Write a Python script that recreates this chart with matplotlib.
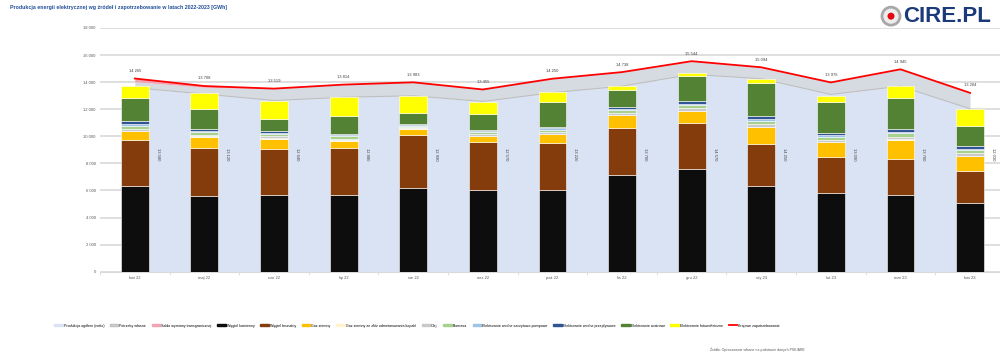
import numpy as np
import matplotlib.pyplot as plt
from matplotlib.patches import Patch, Ellipse
from matplotlib.lines import Line2D

plt.rcParams['font.family'] = ['Liberation Sans', 'DejaVu Sans']

months = ['kwi 22', 'maj 22', 'cze 22', 'lip 22', 'sie 22', 'wrz 22', 'paź 22',
          'lis 22', 'gru 22', 'sty 23', 'lut 23', 'mar 23', 'kwi 23']

# GWh
netto = [13580, 13120, 12640, 12880, 12990, 12570, 13220, 13700, 14570, 14250, 13090, 13700, 12030]
potrzeby = [450, 500, 880, 930, 990, 890, 1030, 1040, 970, 840, 890, 1250, 1170]
saldo = [240, 90, 0, 0, 0, 0, 0, 0, 0, 0, 0, 0, 0]
zuzycie = [14265, 13708, 13519, 13814, 13983, 13455, 14250, 14738, 15544, 15094, 13976, 14945, 13204]

wegiel_kam = [6300, 5560, 5630, 5700, 6180, 6050, 6000, 7110, 7560, 6300, 5780, 5700, 5070]
wegiel_bru = [3400, 3600, 3460, 3460, 3890, 3560, 3480, 3510, 3430, 3160, 2720, 2650, 2390]
gaz = [670, 790, 720, 520, 480, 390, 670, 940, 860, 1210, 1060, 1410, 1060]
gaz_kop = [40, 40, 40, 30, 30, 30, 40, 40, 40, 40, 40, 40, 40]
olej = [160, 130, 140, 120, 90, 110, 130, 140, 170, 180, 160, 180, 170]
biomasa = [220, 180, 180, 160, 120, 140, 170, 180, 220, 240, 200, 230, 220]
wodne_pomp = [130, 100, 100, 80, 60, 80, 100, 100, 130, 130, 120, 140, 130]
wodne = [190, 150, 150, 130, 90, 110, 130, 130, 180, 200, 170, 200, 180]
wiatr = [1730, 1430, 890, 1330, 760, 1140, 1800, 1260, 1850, 2440, 2270, 2290, 1530]
pv = [860, 1180, 1330, 1360, 1310, 910, 720, 290, 260, 300, 440, 860, 1240]

sources = [
    ('Węgiel kamienny', wegiel_kam, '#0d0d0d'),
    ('Węgiel brunatny', wegiel_bru, '#843c0c'),
    ('Gaz ziemny', gaz, '#ffc000'),
    ('Gaz ziemny ze złóż odmetanowania kopalń', gaz_kop, '#fff2cc'),
    ('Olej', olej, '#c9c9c9'),
    ('Biomasa', biomasa, '#a9d18e'),
    ('Elektrownie wodne szczytowo-pompowe', wodne_pomp, '#9dc3e6'),
    ('Elektrownie wodne przepływowe', wodne, '#2f5597'),
    ('Elektrownie wiatrowe', wiatr, '#548235'),
    ('Elektrownie fotowoltaiczne', pv, '#ffff00'),
]

def fmt(v):
    return f'{v:,}'.replace(',', ' ')

fig = plt.figure(figsize=(10, 3.59), dpi=100)
ax = fig.add_axes([0.1, 0.2432, 0.9, 0.679])

x = np.arange(len(months))
netto_a = np.array(netto)
grey_top = netto_a + np.array(potrzeby)
pink_top = grey_top + np.array(saldo)

ax.fill_between(x, 0, netto_a, color='#dae3f3', lw=0, zorder=1)
ax.fill_between(x, netto_a, grey_top, color='#d6dbe2', lw=0, zorder=1)
ax.fill_between(x, grey_top, pink_top, color='#f4a3b1', lw=0, zorder=1)
ax.plot(x, netto_a, color='#bfbfbf', lw=0.8, zorder=1.5)
ax.plot(x, zuzycie, color='#ff0000', lw=1.3, zorder=4)

bottom = np.zeros(len(months))
for name, vals, col in sources:
    ax.bar(x, vals, width=0.4, bottom=bottom, color=col, edgecolor='white',
           linewidth=0.4, zorder=3)
    bottom += np.array(vals)

for i, v in enumerate(zuzycie):
    ax.annotate(fmt(v), (x[i], v), xytext=(0, 4), textcoords='offset points',
                ha='center', va='bottom', fontsize=3, color='#404040', zorder=5)
for i, v in enumerate(netto):
    ax.text(x[i] + 0.33, 8700, fmt(v), rotation=270, ha='center', va='center',
            fontsize=3, color='#404040', zorder=5)

ax.set_xlim(-0.5, 12.43)
ax.set_ylim(0, 18000)
yt = np.arange(0, 18001, 2000)
ax.set_yticks(yt)
ax.set_yticklabels([fmt(v) for v in yt], fontsize=3, color='#595959')
ax.yaxis.grid(True, color='#d9d9d9', lw=1.2)
ax.set_axisbelow(True)
ax.set_xticks(x)
ax.set_xticklabels(months, fontsize=3, color='#595959')
ax.set_xticks(np.arange(-0.5, 12.5, 1), minor=True)
ax.tick_params(axis='both', which='major', length=0, pad=3)
ax.tick_params(axis='x', which='minor', length=2, color='#d9d9d9')
for s in ['top', 'right', 'left']:
    ax.spines[s].set_visible(False)
ax.spines['bottom'].set_color('#d9d9d9')

handles = [Patch(color='#dae3f3', label='Produkcja ogółem (netto)'),
           Patch(facecolor='#d6dbe2', edgecolor='#bfbfbf', label='Potrzeby własne'),
           Patch(color='#f4a3b1', label='Saldo wymiany transgranicznej')]
handles += [Patch(color=c, label=n) for n, v, c in sources]
handles.append(Line2D([], [], color='#ff0000', lw=1.3, label='Krajowe zapotrzebowanie'))
fig.legend(handles=handles, loc='center', bbox_to_anchor=(0.417, 0.093), ncol=14,
           fontsize=2.6, frameon=False, handlelength=2.4, handleheight=0.6,
           columnspacing=1.5, handletextpad=0.3)

fig.text(0.01, 0.985, 'Produkcja energii elektrycznej wg źródeł i zapotrzebowanie w latach 2022-2023 [GWh]',
         fontsize=3.8, color='#1f4e9a', fontweight='bold', ha='left', va='top')
fig.text(0.71, 0.02, 'Źródło: Opracowanie własne na podstawie danych PSE/ARE',
         fontsize=2.5, color='#595959', ha='left', va='bottom')

# logo
fig.add_artist(Ellipse((0.891, 0.955), 0.018, 0.018 * 1000 / 359, transform=fig.transFigure,
                       facecolor='#ececec', edgecolor='#a8a8a8', lw=2))
fig.add_artist(Ellipse((0.891, 0.955), 0.007, 0.007 * 1000 / 359, transform=fig.transFigure,
                       facecolor='#e30613', edgecolor='none'))
fig.text(0.903, 0.953, 'CIRE.PL', fontsize=16, fontweight='bold', color='#1b3a7a',
         ha='left', va='center')

fig.savefig('out.png', dpi=100)
